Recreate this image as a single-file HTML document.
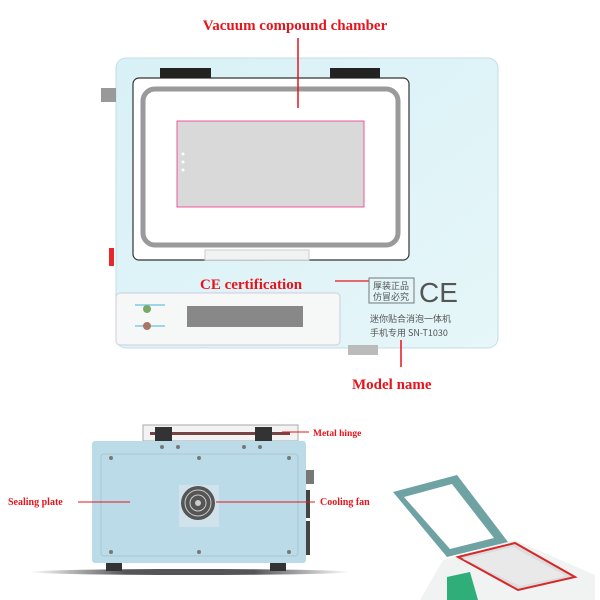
<!DOCTYPE html>
<html><head><meta charset="utf-8"><style>
html,body{margin:0;padding:0;background:#fff;width:600px;height:600px;overflow:hidden}
svg{display:block}
.r{font-family:"Liberation Serif",serif;font-weight:bold;fill:#e8141c}
</style></head><body>
<svg width="600" height="600" viewBox="0 0 600 600" xmlns="http://www.w3.org/2000/svg">
<defs>
<linearGradient id="bd" x1="0" y1="0" x2="1" y2="1"><stop offset="0" stop-color="#d8f1f6"/><stop offset="1" stop-color="#e6f6f9"/></linearGradient>
<linearGradient id="sh" x1="0" x2="1"><stop offset="0" stop-color="#fff"/><stop offset="0.3" stop-color="#555"/><stop offset="0.7" stop-color="#555"/><stop offset="1" stop-color="#fff"/></linearGradient>
</defs>
<text x="295" y="30" text-anchor="middle" class="r" font-size="15">Vacuum compound chamber</text>
<rect x="116" y="58" width="382" height="290" rx="10" fill="url(#bd)" stroke="#c6dde2"/>
<rect x="101" y="88" width="15" height="14" fill="#999"/>
<rect x="109" y="248" width="5" height="18" fill="#e8262c"/>
<rect x="116" y="293" width="224" height="52" rx="4" fill="#f6f8f8" stroke="#ccd"/>
<rect x="187" y="306" width="116" height="21" fill="#888"/>
<rect x="135" y="304" width="30" height="2" fill="#9cd6ea"/>
<rect x="135" y="325" width="30" height="2" fill="#9cd6ea"/>
<circle cx="147" cy="309" r="4" fill="#7a6" /><circle cx="147" cy="326" r="4" fill="#a76"/>
<rect x="348" y="345" width="30" height="10" fill="#bbb"/>
<rect x="133" y="78" width="276" height="182" rx="6" fill="#fff" stroke="#333" stroke-width="1.2"/>
<rect x="205" y="250" width="104" height="10" fill="#f1f3f3" stroke="#ccc"/>
<rect x="143" y="89" width="255" height="156" rx="12" fill="#fff" stroke="#9a9a9a" stroke-width="5"/>
<rect x="177" y="121" width="187" height="86" fill="#d9d9d9" stroke="#e38" stroke-width="0.8"/>
<circle cx="183" cy="154" r="1.5" fill="#fff"/><circle cx="183" cy="162" r="1.5" fill="#fff"/><circle cx="183" cy="170" r="1.5" fill="#fff"/>
<rect x="160" y="68" width="51" height="10" fill="#222"/>
<rect x="330" y="68" width="50" height="10" fill="#222"/>
<line x1="298" y1="38" x2="298" y2="108" stroke="#e8141c" stroke-width="1.5"/>
<text x="200" y="289" class="r" font-size="15">CE certification</text>
<line x1="335" y1="281" x2="369" y2="281" stroke="#e8141c" stroke-width="1.2"/>
<rect x="369" y="278" width="45" height="25" fill="none" stroke="#777"/>
<text x="391" y="289" text-anchor="middle" font-family="Noto Sans CJK SC,sans-serif" font-size="9" fill="#555">厚装正品</text>
<text x="391" y="300" text-anchor="middle" font-family="Noto Sans CJK SC,sans-serif" font-size="9" fill="#555">仿冒必究</text>
<text x="419" y="302" font-family="Liberation Sans,sans-serif" font-size="28" fill="#555">CE</text>
<text x="370" y="322" font-family="Noto Sans CJK SC,sans-serif" font-size="9" fill="#555">迷你贴合消泡一体机</text>
<text x="370" y="336" font-family="Noto Sans CJK SC,sans-serif" font-size="9" fill="#555">手机专用 SN-T1030</text>
<line x1="401" y1="340" x2="401" y2="367" stroke="#e8141c" stroke-width="1.5"/>
<text x="352" y="389" class="r" font-size="15">Model name</text>
<ellipse cx="190" cy="572" rx="160" ry="3" fill="url(#sh)"/>
<rect x="106" y="563" width="16" height="8" fill="#333"/><rect x="270" y="563" width="16" height="8" fill="#333"/>
<rect x="143" y="425" width="155" height="16" fill="#f3f3f3" stroke="#aaa"/>
<rect x="150" y="432" width="140" height="3" fill="#744"/>
<rect x="155" y="427" width="17" height="15" fill="#333"/><rect x="255" y="427" width="17" height="15" fill="#333"/>
<rect x="92" y="441" width="214" height="122" rx="3" fill="#bcdbe8"/>
<rect x="101" y="454" width="197" height="102" rx="3" fill="none" stroke="#a9c6d3"/>
<rect x="306" y="470" width="8" height="14" fill="#777"/>
<rect x="306" y="490" width="4" height="28" fill="#444"/><rect x="306" y="521" width="4" height="34" fill="#444"/>
<g fill="#777"><circle cx="162" cy="447" r="2"/><circle cx="178" cy="447" r="2"/><circle cx="244" cy="447" r="2"/><circle cx="260" cy="447" r="2"/>
<circle cx="111" cy="458" r="2"/><circle cx="199" cy="458" r="2"/><circle cx="289" cy="458" r="2"/>
<circle cx="111" cy="552" r="2"/><circle cx="199" cy="552" r="2"/><circle cx="289" cy="552" r="2"/></g>
<rect x="179" y="485" width="40" height="42" fill="#d1e3ea"/>
<circle cx="198" cy="503" r="17" fill="#555"/><circle cx="198" cy="503" r="13" fill="none" stroke="#ccc"/><circle cx="198" cy="503" r="8" fill="none" stroke="#ccc"/><circle cx="198" cy="503" r="3" fill="#ccc"/>
<text x="313" y="436" class="r" font-size="9.5">Metal hinge</text>
<line x1="282" y1="432" x2="309" y2="432" stroke="#e8141c"/>
<text x="8" y="505" class="r" font-size="10">Sealing plate</text>
<line x1="78" y1="502" x2="130" y2="502" stroke="#e8141c"/>
<text x="320" y="505" class="r" font-size="10">Cooling fan</text>
<line x1="216" y1="502" x2="315" y2="502" stroke="#e8141c"/>
<!-- bottom right device -->
<polygon points="443,560 515,540 595,575 595,600 420,600" fill="#f1f2f2"/>
<polygon points="393,492 457,475 508,542 447,557" fill="#6fa3a3"/>
<polygon points="404,497 452,484 494,538 450,549" fill="#fff"/>
<polygon points="458,557 515,543 575,577 518,590" fill="#dcdcdc" stroke="#d62828" stroke-width="2"/>
<polygon points="463,559 513,547 566,576 520,586" fill="#e9e9e9"/>
<polygon points="447,577 470,572 478,600 447,600" fill="#2fae7a"/>
</svg>
</body></html>
